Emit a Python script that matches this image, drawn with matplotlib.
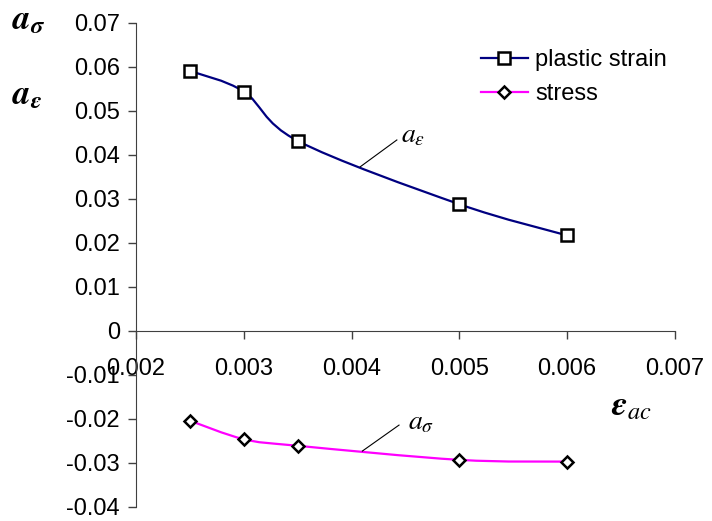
import numpy as np
import matplotlib
matplotlib.use("Agg")
import matplotlib.pyplot as plt
from matplotlib.path import Path
from matplotlib.patches import PathPatch
from matplotlib.lines import Line2D

plt.rcParams['font.family'] = ['Liberation Sans', 'DejaVu Sans']
plt.rcParams['mathtext.fontset'] = 'stix'

# data
strain_x = [0.0025, 0.003, 0.0035, 0.005, 0.006]
plastic_strain = [0.0591, 0.0544, 0.0432, 0.0288, 0.0217]
stress = [-0.0204, -0.0246, -0.0261, -0.0293, -0.0297]
x_ticks = [0.002, 0.003, 0.004, 0.005, 0.006, 0.007]
y_ticks = [-0.04, -0.03, -0.02, -0.01, 0, 0.01, 0.02, 0.03, 0.04, 0.05, 0.06, 0.07]


def smooth_path(xs, ys):
    # excel-like smoothed line: bezier segments through every point
    p = np.column_stack([xs, ys])
    ext = np.vstack([p[0], p, p[-1]])
    verts = [p[0]]
    codes = [Path.MOVETO]
    for i in range(len(p) - 1):
        p0, p1, p2, p3 = ext[i], ext[i + 1], ext[i + 2], ext[i + 3]
        c1 = p1 + (p2 - p0) / 6.0
        c2 = p2 - (p3 - p1) / 6.0
        verts += [c1, c2, p2]
        codes += [Path.CURVE4] * 3
    return Path(verts, codes)


fig = plt.figure(figsize=(7.12, 5.21), dpi=100)
ax = fig.add_axes([0.191, 0.027, 0.757, 0.929])
ax.set_xlim(0.002, 0.007)
ax.set_ylim(-0.04, 0.07)

for ys, col in [(plastic_strain, '#000080'), (stress, '#ff00ff')]:
    ax.add_patch(PathPatch(smooth_path(strain_x, ys), facecolor='none',
                           edgecolor=col, lw=1.6, zorder=2))

ax.plot(strain_x, plastic_strain, ls='none', marker='s', ms=8.5, mfc='white',
        mec='black', mew=1.8, zorder=3)
ax.plot(strain_x, stress, ls='none', marker='D', ms=6.5, mfc='white',
        mec='black', mew=1.8, zorder=3)

ax.spines['top'].set_visible(False)
ax.spines['right'].set_visible(False)
ax.spines['bottom'].set_position(('data', 0))
ax.spines['left'].set_color('#404040')
ax.spines['bottom'].set_color('#404040')
ax.set_xticks(x_ticks)
ax.set_yticks(y_ticks)
ax.set_xticklabels([f"{v:g}" for v in x_ticks])
ax.set_yticklabels([f"{v:g}" for v in y_ticks])
ax.tick_params(direction='out', length=5.5, width=1, colors='#404040',
               labelcolor='black', labelsize=17)
ax.tick_params(axis='x', pad=14)
ax.tick_params(axis='y', pad=6)

# curve labels with leader lines
ax.plot([0.00408, 0.00442], [0.0373, 0.0434], color='black', lw=0.8)
ax.text(0.00446, 0.0445, r'$a_{\varepsilon}$', fontsize=20, va='center')
ax.plot([0.0041, 0.00444], [-0.0273, -0.0214], color='black', lw=0.8)
ax.text(0.00452, -0.0209, r'$a_{\sigma}$', fontsize=20, va='center')

# axis titles
fig.text(0.017, 0.962, r'$\mathbfit{a}_{\mathbfit{\sigma}}$', fontsize=25, va='center')
fig.text(0.017, 0.818, r'$\mathbfit{a}_{\mathbfit{\varepsilon}}$', fontsize=25, va='center')
fig.text(0.858, 0.222, r'$\mathbfit{\varepsilon}_{\mathit{ac}}$', fontsize=25, va='center')

handles = [Line2D([], [], color='#000080', lw=1.6, marker='s', ms=8.5, mfc='white',
                  mec='black', mew=1.8),
           Line2D([], [], color='#ff00ff', lw=1.6, marker='D', ms=6.5, mfc='white',
                  mec='black', mew=1.8)]
ax.legend(handles, ['plastic strain', 'stress'], loc='upper left',
          bbox_to_anchor=(0.6, 0.99), frameon=False, fontsize=17,
          handlelength=2.0, handletextpad=0.3, labelspacing=0.5)

fig.savefig('out.png', dpi=100)
